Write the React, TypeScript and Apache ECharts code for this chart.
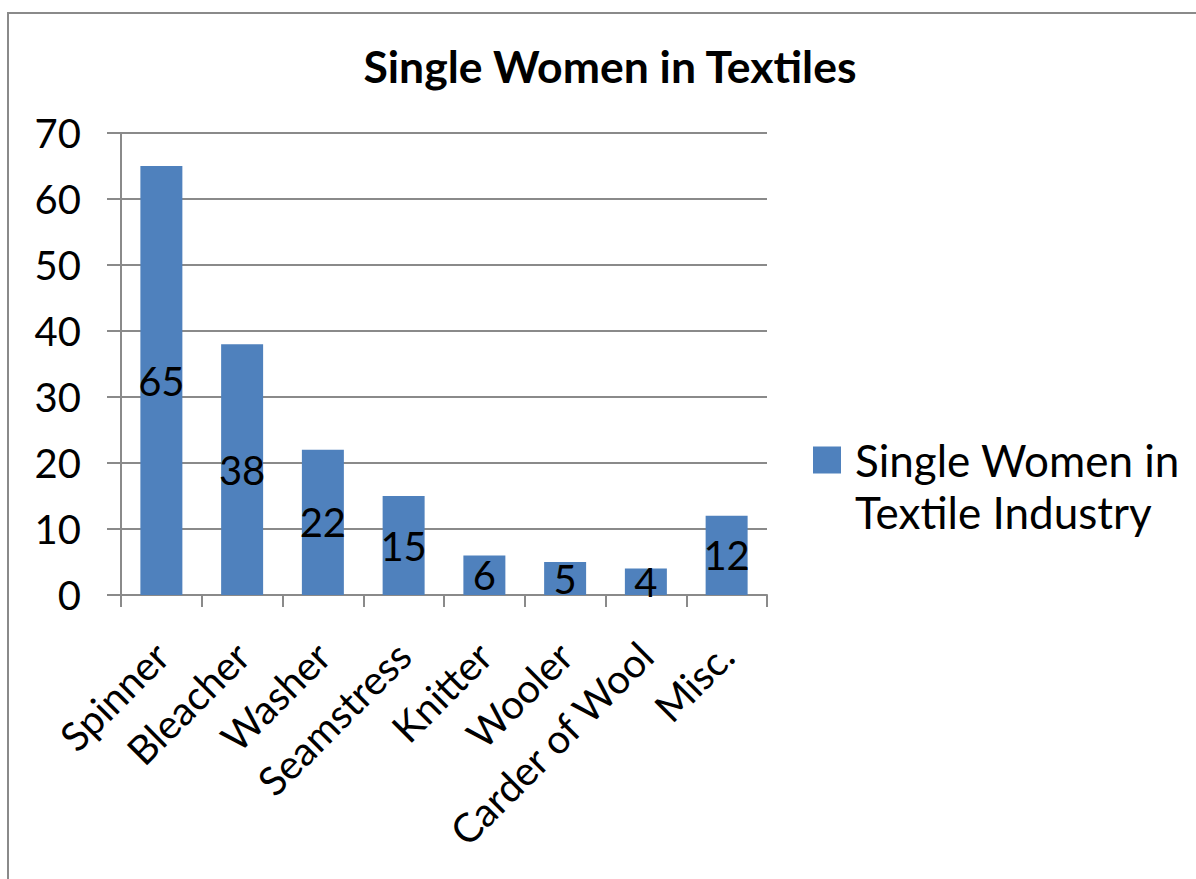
import React, { useEffect, useRef } from "react";
import * as echarts from "echarts";

const categories = ["Spinner", "Bleacher", "Washer", "Seamstress", "Knitter", "Wooler", "Carder of Wool", "Misc."];
const values = [65, 38, 22, 15, 6, 5, 4, 12];
const seriesName = "Single Women in Textile Industry";
const legendText = "Single Women in\nTextile Industry";
const titleText = "Single Women in Textiles";
const yMin = 0;
const yMax = 70;
const yInterval = 10;

const FONT = "Lato";

export default function App() {
  const ref = useRef<HTMLDivElement>(null);
  useEffect(() => {
    document.body.style.margin = "0";
    const chart = echarts.init(ref.current!, null, { renderer: "svg" });
    chart.setOption({
      animation: false,
      backgroundColor: "#ffffff",
      title: {
        text: titleText,
        left: 605,
        top: 38,
        textAlign: "center",
        textStyle: { fontFamily: FONT, fontWeight: "bold", fontSize: 44.5, color: "#000" },
      },
      graphic: [
        {
          type: "rect",
          shape: { x: 8, y: 13, width: 1300, height: 1000 },
          style: { fill: "none", stroke: "#8a8a8a", lineWidth: 2 },
          silent: true,
        },
      ],
      legend: {
        left: 813,
        top: 434,
        padding: 0,
        orient: "vertical",
        itemWidth: 37,
        itemHeight: 79,
        itemGap: 10,
        icon: "path://M0,0H28V27H0Z M0,79L0.01,79 M37,0L37.01,0",
        formatter: () => legendText,
        textStyle: {
          fontFamily: FONT,
          fontSize: 44,
          color: "#000",
          lineHeight: 52,
        },
      },
      grid: { left: 121, right: 429, top: 133, bottom: 284, containLabel: false },
      xAxis: {
        type: "category",
        data: categories,
        axisLine: { lineStyle: { color: "#8a8a8a", width: 2 } },
        axisTick: { show: true, length: 12, lineStyle: { color: "#8a8a8a", width: 2 } },
        axisLabel: {
          interval: 0,
          rotate: 45,
          margin: 54,
          fontFamily: FONT,
          fontSize: 40,
          color: "#000",
        },
      },
      yAxis: {
        type: "value",
        min: yMin,
        max: yMax,
        interval: yInterval,
        axisLine: { show: true, lineStyle: { color: "#8a8a8a", width: 2 } },
        axisTick: { show: true, length: 14, lineStyle: { color: "#8a8a8a", width: 2 } },
        splitLine: { lineStyle: { color: "#8a8a8a", width: 2 } },
        axisLabel: { margin: 40, fontFamily: FONT, fontSize: 40, color: "#000" },
      },
      series: [
        {
          name: seriesName,
          type: "bar",
          data: values,
          barWidth: "52%",
          itemStyle: { color: "#4F81BD" },
          label: {
            show: true,
            position: "inside",
            fontFamily: FONT,
            fontSize: 40,
            color: "#000",
          },
        },
      ],
    });
    return () => chart.dispose();
  }, []);
  return <div ref={ref} style={{ width: 1196, height: 879 }} />;
}
